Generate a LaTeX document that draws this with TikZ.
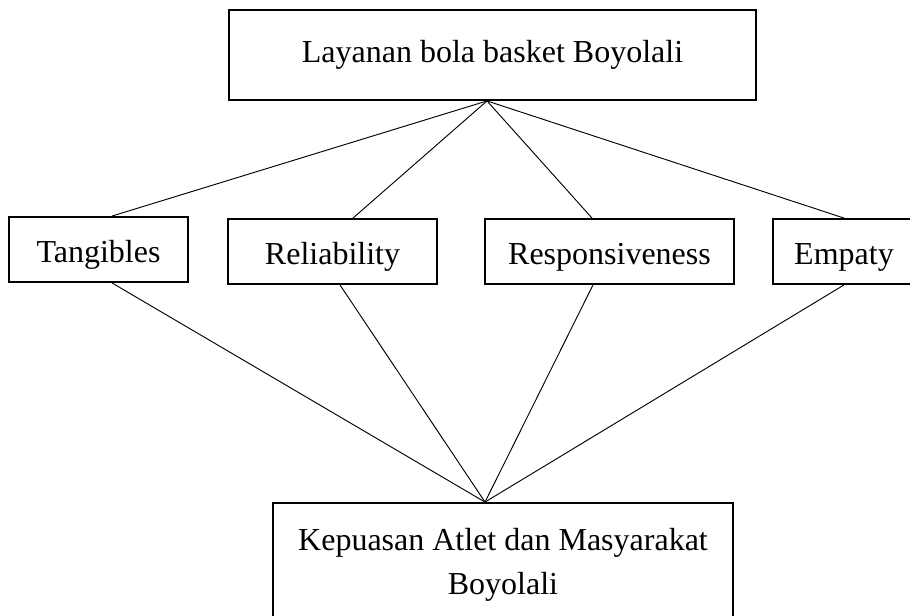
\documentclass[tikz,border=0pt]{standalone}
\usepackage{fontspec}
\setmainfont{Liberation Serif}
\usetikzlibrary{calc}

\begin{document}
\begin{tikzpicture}[x=0.75pt,y=-0.75pt]
\tikzstyle{kotak}=[draw,line width=1.4pt,inner sep=0pt,font=\fontsize{24}{33}\selectfont]
\tikzstyle{dimensi}=[kotak,minimum height=48.75pt,text height=22pt,text depth=3pt]
\tikzstyle{garis}=[line width=0.7pt]
\useasboundingbox (0,0) rectangle (910,616);

\node[kotak,minimum width=395.25pt,minimum height=67.5pt] (layanan) at (492.5,55) {Layanan bola basket Boyolali};

\node[dimensi,minimum width=134.25pt] (tang) at (98.5,249.5) {Tangibles};
\node[dimensi,minimum width=156.75pt] (rel) at (332.5,251.5) {Reliability};
\node[dimensi,minimum width=186.75pt] (resp) at (609.5,251.5) {Responsiveness};
\node[dimensi,minimum width=106.5pt] (emp) at (844,251.5) {Empaty};

\node[kotak,minimum width=345pt,minimum height=93pt,align=center] (kepuasan) at (503,565) {Kepuasan Atlet dan Masyarakat\\Boyolali};

% atas ke dimensi, dimensi ke bawah
\foreach \n/\dx in {tang/13.5,rel/20.5,resp/-17.5,emp/0}
  \draw[garis] ($(layanan.south)+(-5.5,0)$) -- ($(\n.north)+(\dx,0)$);
\foreach \n/\dx in {tang/13.5,rel/7.5,resp/-16.5,emp/0}
  \draw[garis] ($(\n.south)+(\dx,0)$) -- ($(kepuasan.north)+(-18,0)$);
\end{tikzpicture}
\end{document}
